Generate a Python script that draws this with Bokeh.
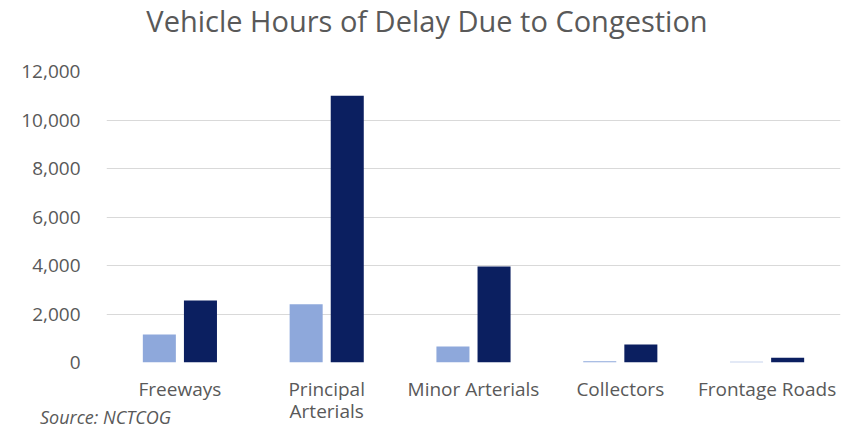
from bokeh.plotting import figure
from bokeh.models import FactorRange, ColumnDataSource, Div, NumeralTickFormatter, FixedTicker
from bokeh.layouts import column
from bokeh.transform import dodge
from bokeh.embed import file_html
from bokeh.resources import INLINE

title_text = "Vehicle Hours of Delay Due to Congestion"
source_text = "Source: NCTCOG"
categories = ["Freeways", "Principal\nArterials", "Minor Arterials", "Collectors", "Frontage Roads"]
series_a = [1150, 2400, 660, 50, 30]
series_b = [2560, 11000, 3960, 740, 200]
y_ticks = [0, 2000, 4000, 6000, 8000, 10000, 12000]

src = ColumnDataSource(dict(cat=categories, a=series_a, b=series_b))

p = figure(width=854, height=428, x_range=FactorRange(*categories, range_padding=0),
           y_range=(0, 12000), output_backend="svg", toolbar_location=None,
           min_border_left=106, min_border_right=14, min_border_bottom=66, min_border_top=71)

p.vbar(x=dodge("cat", -0.14, range=p.x_range), top="a", width=0.225, source=src,
       color="#8EA8DB", line_color=None)
p.vbar(x=dodge("cat", 0.14, range=p.x_range), top="b", width=0.225, source=src,
       color="#0B1F60", line_color=None)

p.outline_line_color = None
p.xgrid.grid_line_color = None
p.ygrid.grid_line_color = "#D9D9D9"
p.ygrid.grid_line_width = 1
p.yaxis.ticker = FixedTicker(ticks=y_ticks)
p.yaxis.formatter = NumeralTickFormatter(format="0,0")
for ax in (p.xaxis, p.yaxis):
    ax.axis_line_color = None
    ax.major_tick_line_color = None
    ax.minor_tick_line_color = None
    ax.major_label_text_font = "Open Sans"
    ax.major_label_text_font_size = "19px"
    ax.major_label_text_color = "#595959"
p.yaxis.major_label_standoff = 20
p.xaxis.major_label_standoff = 7
p.xaxis.major_label_text_line_height = 0.85

title_div = Div(text=title_text, width=854, height=40, margin=(-427, 0, 0, 0),
                styles={"font-family": "Open Sans", "font-size": "29px",
                        "line-height": "40px", "text-align": "center",
                        "white-space": "nowrap", "color": "#595959"})

source_div = Div(text=source_text, height=24, margin=(364, 0, 0, 40),
                 styles={"font-family": "Open Sans", "font-size": "18px",
                         "line-height": "24px", "font-style": "italic",
                         "white-space": "nowrap", "color": "#595959"})

layout = column(p, title_div, source_div, spacing=0)

open("out.html", "w").write(file_html(layout, INLINE))
